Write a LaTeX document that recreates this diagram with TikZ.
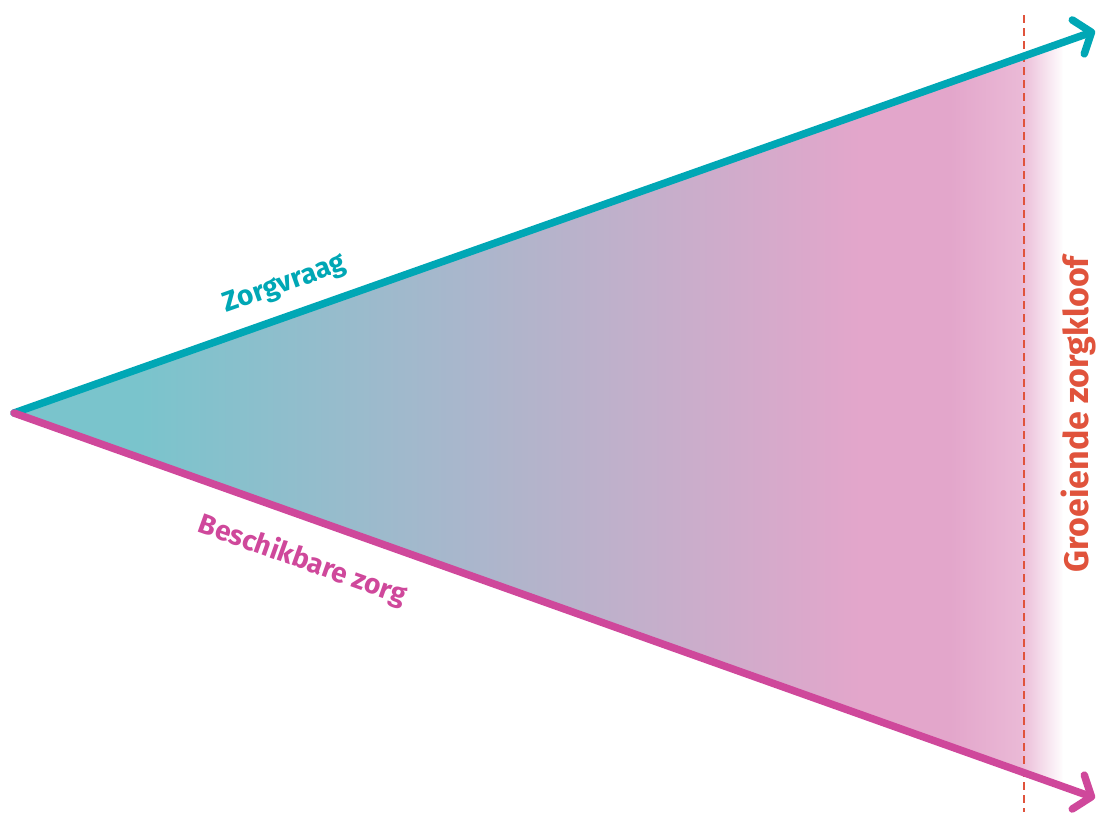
\documentclass[tikz,border=0pt]{standalone}
\usepackage{fontspec}
\setmainfont{Fira Sans}
\usetikzlibrary{arrows.meta,calc}
\definecolor{vraag}{HTML}{00A7B5}
\definecolor{aanbod}{HTML}{CF489B}
\definecolor{kloof}{HTML}{E0533C}
\definecolor{fillteal}{HTML}{7AC4CC}
\definecolor{fillpink}{HTML}{E3A6CB}
\definecolor{fillpinkb}{HTML}{EAB9D6}
\tikzset{
  trend/.style={line width=7.5pt, line cap=round,
    -{Straight Barb[length=14pt,width=36pt,line cap=round,line join=round]}},
  lbl/.style={font=\fontsize{28}{30}\selectfont\bfseries, inner sep=0pt},
  bigl/.style={font=\fontsize{34}{36}\selectfont\bfseries, inner sep=0pt},
  gapline/.style={draw=kloof, line width=2.2pt, dash pattern=on 8pt off 5pt}
}
\begin{document}
\begin{tikzpicture}[x=1pt,y=-1pt]
\useasboundingbox (0,0) rectangle (1099,812);
\coordinate (apex) at (14,413);
\coordinate (vraagEnd) at (1095,31);
\coordinate (aanbodEnd) at (1095,798);
\coordinate (gapTop) at (1024,15);
\coordinate (gapBot) at (1024,812);
% gradient fill between the two lines
\begin{scope}
  \clip (apex) -- ($(apex)!0.97!(vraagEnd)$) -- ($(apex)!0.97!(aanbodEnd)$) -- cycle;
  \fill[fillteal] (10,0) rectangle (141,812);
  \shade[left color=fillteal, right color=fillpink] (140,0) rectangle (861,812);
  \fill[fillpink] (860,0) rectangle (951,812);
  \shade[left color=fillpink, right color=fillpinkb] (950,0) rectangle (1021,812);
  \shade[left color=fillpinkb, right color=white] (1020,0) rectangle (1064,812);
\end{scope}
\draw[gapline] (gapTop) -- (gapBot);
\draw[trend, vraag] (apex) -- node[pos=0.26, sloped, above=14pt, lbl, text=vraag] (vraagLbl) {Zorgvraag} (vraagEnd);
\draw[trend, aanbod] (apex) -- node[pos=0.28, sloped, below=24pt, lbl, text=aanbod] (aanbodLbl) {Beschikbare zorg} (aanbodEnd);
\node[bigl, text=kloof, rotate=90] (kloofLbl) at (1078,414) {Groeiende zorgkloof};
\end{tikzpicture}
\end{document}
